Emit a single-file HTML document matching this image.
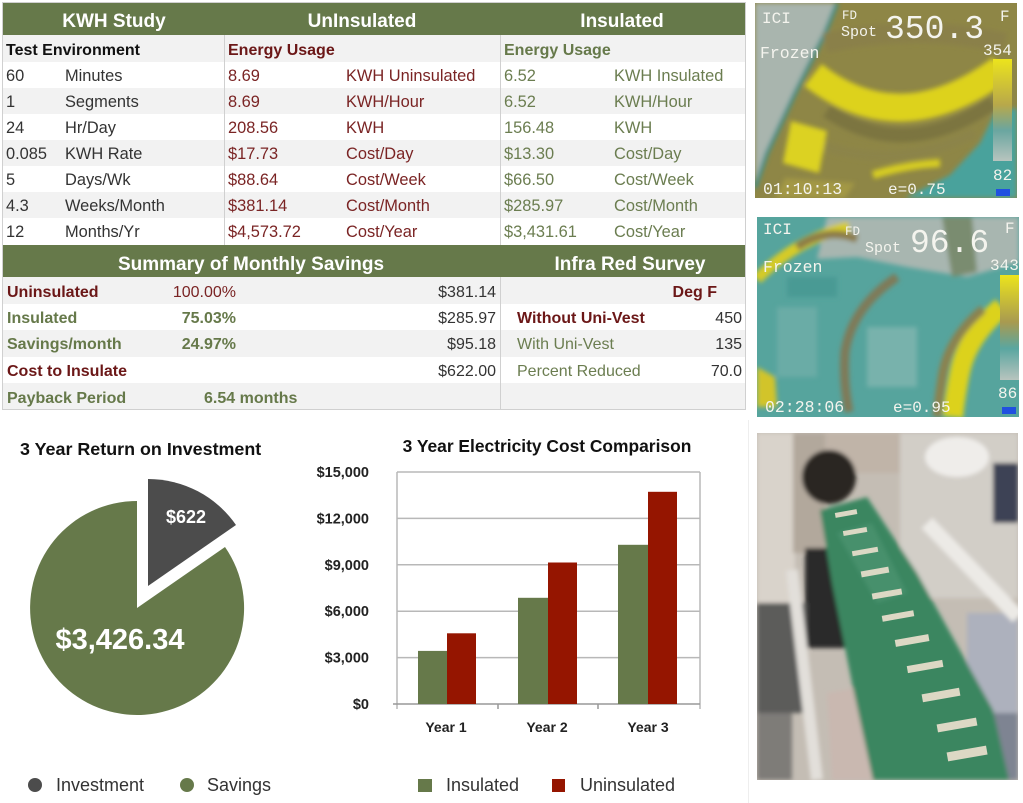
<!DOCTYPE html>
<html><head><meta charset="utf-8"><style>
html,body{margin:0;padding:0;background:#fff;width:1023px;height:803px;overflow:hidden}
svg{display:block}
.s{font-family:"Liberation Sans",Arial,sans-serif}
.m{font-family:"Liberation Mono","DejaVu Sans Mono",monospace}
</style></head><body>
<svg width="1023" height="803" viewBox="0 0 1023 803" xmlns="http://www.w3.org/2000/svg">
<rect width="1023" height="803" fill="#fff"/>
<!-- ===== TOP TABLE ===== -->
<g class="s">
<rect x="2.5" y="2.5" width="743" height="407" fill="#fff" stroke="#d0d0d0"/>
<rect x="3" y="3" width="742" height="32" fill="#66794a"/>
<rect x="3" y="35" width="742" height="27" fill="#f2f2f2"/>
<rect x="3" y="88" width="742" height="26" fill="#f2f2f2"/>
<rect x="3" y="140" width="742" height="26" fill="#f2f2f2"/>
<rect x="3" y="192" width="742" height="26" fill="#f2f2f2"/>
<line x1="224.5" y1="35" x2="224.5" y2="245" stroke="#d0d0d0"/>
<line x1="500.5" y1="35" x2="500.5" y2="245" stroke="#d0d0d0"/>
<g font-weight="bold" font-size="19" fill="#fff" text-anchor="middle">
<text x="114" y="27">KWH Study</text>
<text x="362" y="27">UnInsulated</text>
<text x="622" y="27">Insulated</text>
</g>
<g font-weight="bold" font-size="16">
<text x="6" y="55" fill="#111">Test Environment</text>
<text x="228" y="55" fill="#6b1717">Energy Usage</text>
<text x="504" y="55" fill="#66794a">Energy Usage</text>
</g>
<g font-size="16.4" fill="#333">
<text x="6" y="81">60</text><text x="65" y="81">Minutes</text>
<text x="6" y="107">1</text><text x="65" y="107">Segments</text>
<text x="6" y="133">24</text><text x="65" y="133">Hr/Day</text>
<text x="6" y="159">0.085</text><text x="65" y="159">KWH Rate</text>
<text x="6" y="185">5</text><text x="65" y="185">Days/Wk</text>
<text x="6" y="211">4.3</text><text x="65" y="211">Weeks/Month</text>
<text x="6" y="237">12</text><text x="65" y="237">Months/Yr</text>
</g>
<g font-size="16.4" fill="#7a2424">
<text x="228" y="81">8.69</text><text x="346" y="81">KWH Uninsulated</text>
<text x="228" y="107">8.69</text><text x="346" y="107">KWH/Hour</text>
<text x="228" y="133">208.56</text><text x="346" y="133">KWH</text>
<text x="228" y="159">$17.73</text><text x="346" y="159">Cost/Day</text>
<text x="228" y="185">$88.64</text><text x="346" y="185">Cost/Week</text>
<text x="228" y="211">$381.14</text><text x="346" y="211">Cost/Month</text>
<text x="228" y="237">$4,573.72</text><text x="346" y="237">Cost/Year</text>
</g>
<g font-size="16.4" fill="#6b7d50">
<text x="504" y="81">6.52</text><text x="614" y="81">KWH Insulated</text>
<text x="504" y="107">6.52</text><text x="614" y="107">KWH/Hour</text>
<text x="504" y="133">156.48</text><text x="614" y="133">KWH</text>
<text x="504" y="159">$13.30</text><text x="614" y="159">Cost/Day</text>
<text x="504" y="185">$66.50</text><text x="614" y="185">Cost/Week</text>
<text x="504" y="211">$285.97</text><text x="614" y="211">Cost/Month</text>
<text x="504" y="237">$3,431.61</text><text x="614" y="237">Cost/Year</text>
</g>
<!-- summary -->
<rect x="3" y="245" width="742" height="32" fill="#66794a"/>
<rect x="3" y="277" width="742" height="27" fill="#f2f2f2"/>
<rect x="3" y="330" width="742" height="27" fill="#f2f2f2"/>
<rect x="3" y="383" width="742" height="26" fill="#f2f2f2"/>
<line x1="500.5" y1="277" x2="500.5" y2="409" stroke="#d0d0d0"/>
<g font-weight="bold" font-size="19" fill="#fff" text-anchor="middle">
<text x="251" y="270">Summary of Monthly Savings</text>
<text x="630" y="270">Infra Red Survey</text>
</g>
<g font-size="16">
<text x="7" y="297" font-weight="bold" fill="#6b1717">Uninsulated</text>
<text x="236" y="297" text-anchor="end" fill="#7a2424">100.00%</text>
<text x="496" y="297" text-anchor="end" fill="#333">$381.14</text>
<text x="717" y="297" text-anchor="end" font-weight="bold" fill="#6b1717">Deg F</text>

<text x="7" y="323" font-weight="bold" fill="#66794a">Insulated</text>
<text x="236" y="323" text-anchor="end" font-weight="bold" fill="#66794a">75.03%</text>
<text x="496" y="323" text-anchor="end" fill="#333">$285.97</text>
<text x="517" y="323" font-weight="bold" fill="#6b1717">Without Uni-Vest</text>
<text x="742" y="323" text-anchor="end" fill="#333">450</text>

<text x="7" y="349" font-weight="bold" fill="#66794a">Savings/month</text>
<text x="236" y="349" text-anchor="end" font-weight="bold" fill="#66794a">24.97%</text>
<text x="496" y="349" text-anchor="end" fill="#333">$95.18</text>
<text x="517" y="349" fill="#6b7d50">With Uni-Vest</text>
<text x="742" y="349" text-anchor="end" fill="#333">135</text>

<text x="7" y="376" font-weight="bold" fill="#6b1717">Cost to Insulate</text>
<text x="496" y="376" text-anchor="end" fill="#333">$622.00</text>
<text x="517" y="376" fill="#6b7d50">Percent Reduced</text>
<text x="742" y="376" text-anchor="end" fill="#333">70.0</text>

<text x="7" y="403" font-weight="bold" fill="#66794a">Payback Period</text>
<text x="204" y="403" font-weight="bold" fill="#66794a">6.54 months</text>
</g>
</g>

<!-- ===== PIE ===== -->
<g class="s">
<text x="20" y="455" font-weight="bold" font-size="17.9" fill="#111">3 Year Return on Investment</text>
<path d="M137,608 L225,547 A107,107 0 1 1 137,501 Z" fill="#66794a"/>
<path d="M148,586 L148,479 A107,107 0 0 1 236,525 Z" fill="#4c4c4c"/>
<text x="186" y="523" text-anchor="middle" font-weight="bold" font-size="18" fill="#fff">$622</text>
<text x="120" y="649" text-anchor="middle" font-weight="bold" font-size="29" fill="#fff">$3,426.34</text>
<circle cx="35" cy="785" r="7" fill="#4c4c4c"/>
<text x="56" y="791" font-size="18" fill="#333">Investment</text>
<circle cx="187" cy="785" r="7" fill="#66794a"/>
<text x="207" y="791" font-size="18" fill="#333">Savings</text>
</g>

<!-- ===== BAR CHART ===== -->
<g class="s">
<text x="547" y="452" text-anchor="middle" font-weight="bold" font-size="17.4" fill="#111">3 Year Electricity Cost Comparison</text>
<g stroke="#b8b8b8" stroke-width="1.5">
<line x1="397" y1="472" x2="700" y2="472"/>
<line x1="397" y1="518.4" x2="700" y2="518.4"/>
<line x1="397" y1="564.8" x2="700" y2="564.8"/>
<line x1="397" y1="611.2" x2="700" y2="611.2"/>
<line x1="397" y1="657.6" x2="700" y2="657.6"/>
<line x1="397" y1="472" x2="397" y2="709"/>
<line x1="700" y1="472" x2="700" y2="709"/>
</g>
<g stroke="#999" stroke-width="1.5">
<line x1="393" y1="704" x2="700" y2="704"/>
<line x1="498" y1="704" x2="498" y2="709"/>
<line x1="598" y1="704" x2="598" y2="709"/>
</g>
<g fill="#66794a">
<rect x="418" y="650.9" width="29" height="53.1"/>
<rect x="518" y="597.8" width="30" height="106.2"/>
<rect x="618" y="544.8" width="30" height="159.2"/>
</g>
<g fill="#951500">
<rect x="447" y="633.3" width="29" height="70.7"/>
<rect x="548" y="562.5" width="29" height="141.5"/>
<rect x="648" y="491.8" width="29" height="212.2"/>
</g>
<g font-weight="bold" font-size="14.5" fill="#222" text-anchor="end">
<text x="369" y="477">$15,000</text>
<text x="369" y="523.4">$12,000</text>
<text x="369" y="569.8">$9,000</text>
<text x="369" y="616.2">$6,000</text>
<text x="369" y="662.6">$3,000</text>
<text x="369" y="709">$0</text>
</g>
<g font-weight="bold" font-size="14" fill="#222" text-anchor="middle">
<text x="446" y="732">Year 1</text>
<text x="547" y="732">Year 2</text>
<text x="648" y="732">Year 3</text>
</g>
<rect x="418" y="779" width="14" height="13" fill="#66794a"/>
<text x="446" y="791" font-size="18" fill="#333">Insulated</text>
<rect x="552" y="779" width="13" height="13" fill="#951500"/>
<text x="580" y="791" font-size="18" fill="#333">Uninsulated</text>
</g>
<line x1="748.5" y1="420" x2="748.5" y2="803" stroke="#eeeeee"/>

<!-- ===== PHOTO 1 (thermal) ===== -->
<svg x="755" y="3" width="262" height="195" viewBox="0 0 262 195">
<defs>
<linearGradient id="cb1" x1="0" y1="0" x2="0" y2="1"><stop offset="0" stop-color="#ece41c"/><stop offset="0.45" stop-color="#b8a84a"/><stop offset="0.7" stop-color="#6aa6a0"/><stop offset="1" stop-color="#b8c4be"/></linearGradient>
<filter id="bl1"><feGaussianBlur stdDeviation="2.5"/></filter>
</defs>
<rect width="262" height="195" fill="#8e8646"/>
<g filter="url(#bl1)">
<polygon points="0,0 82,0 70,30 40,90 12,150 0,185" fill="#a9b5ae"/>
<path d="M82,0 L70,30 L40,90 L12,150 L0,185" stroke="#3f8f8a" stroke-width="4" fill="none"/>
<path d="M70,40 Q160,20 250,40" stroke="#8a8048" stroke-width="20" fill="none"/>
<path d="M58,72 Q145,140 246,66" stroke="#ddd21e" stroke-width="28" fill="none"/>
<path d="M72,108 Q150,160 238,100" stroke="#7c7440" stroke-width="14" fill="none"/>
<path d="M60,140 Q140,170 220,130" stroke="#8c8448" stroke-width="10" fill="none"/>
<polygon points="36,118 72,128 64,170 28,160" fill="#dcd220"/>
<polygon points="150,195 195,172 225,140 240,110 262,105 262,195" fill="#4aa29c"/>
<path d="M118,172 Q150,162 185,160" stroke="#d6cc22" stroke-width="8" fill="none"/>
<polygon points="30,175 100,180 90,195 20,195" fill="#a39845"/>
</g>
<rect x="238" y="56" width="19" height="102" fill="url(#cb1)"/>
<g class="m" fill="#f4f4ee">
<text x="7" y="20" font-size="16">ICI</text>
<text x="87" y="16" font-size="12.5">FD</text>
<text x="86" y="33" font-size="15">Spot</text>
<text x="130" y="35" font-size="33">350.3</text>
<text x="245" y="18" font-size="16">F</text>
<text x="5" y="55" font-size="16.5">Frozen</text>
<text x="228" y="52" font-size="16">354</text>
<text x="238" y="177" font-size="16">82</text>
<text x="8" y="191" font-size="16.5">01:10:13</text>
<text x="133" y="191" font-size="16">e=0.75</text>
</g>
<rect x="241" y="186" width="14" height="7" fill="#2050e0"/>
</svg>

<!-- ===== PHOTO 2 (thermal) ===== -->
<svg x="757" y="217" width="262" height="200" viewBox="0 0 262 200">
<defs>
<linearGradient id="cb2" x1="0" y1="0" x2="0" y2="1"><stop offset="0" stop-color="#ece41c"/><stop offset="0.45" stop-color="#a89a50"/><stop offset="0.7" stop-color="#5aa6a0"/><stop offset="1" stop-color="#b8c4be"/></linearGradient>
<filter id="bl2"><feGaussianBlur stdDeviation="2.5"/></filter>
</defs>
<rect width="262" height="200" fill="#56a49d"/>
<g filter="url(#bl2)">
<polygon points="70,0 262,0 262,45 210,60 150,50 100,40 60,42" fill="#a8b6b0"/>
<polygon points="185,0 215,0 220,55 195,60" fill="#7a8c70"/>
<path d="M0,62 Q40,22 92,10" stroke="#d6cb26" stroke-width="11" fill="none"/>
<path d="M40,30 Q70,10 100,22" stroke="#8c7c46" stroke-width="8" fill="none"/>
<path d="M140,60 Q95,90 88,135 Q86,165 92,195" stroke="#7f7a58" stroke-width="9" fill="none"/>
<path d="M245,90 Q210,120 203,155 Q198,180 196,200" stroke="#dcd21c" stroke-width="20" fill="none"/>
<path d="M226,92 Q193,120 186,155 Q182,180 180,200" stroke="#8b8250" stroke-width="9" fill="none"/>
<polygon points="0,150 18,160 20,190 0,190" fill="#d2c42a"/>
<rect x="20" y="90" width="40" height="70" fill="#6aaca6"/>
<rect x="110" y="110" width="50" height="60" fill="#78b2ac"/>
<rect x="30" y="60" width="50" height="20" fill="#4a9a94"/>
</g>
<rect x="243" y="58" width="19" height="105" fill="url(#cb2)"/>
<g class="m" fill="#f4f4ee">
<text x="6" y="17" font-size="16">ICI</text>
<text x="88" y="18" font-size="12.5">FD</text>
<text x="108" y="35" font-size="15">Spot</text>
<text x="153" y="35" font-size="33">96.6</text>
<text x="248" y="16" font-size="16">F</text>
<text x="6" y="55" font-size="16.5">Frozen</text>
<text x="233" y="53" font-size="16">343</text>
<text x="241" y="181" font-size="16">86</text>
<text x="8" y="195" font-size="16.5">02:28:06</text>
<text x="136" y="195" font-size="16">e=0.95</text>
</g>
<rect x="245" y="190" width="14" height="7" fill="#2050e0"/>
</svg>

<!-- ===== PHOTO 3 ===== -->
<svg x="757" y="433" width="261" height="347" viewBox="0 0 261 347">
<defs><filter id="bl3"><feGaussianBlur stdDeviation="2"/></filter></defs>
<rect width="261" height="347" fill="#c4bdb4"/>
<g filter="url(#bl3)">
<rect x="0" y="0" width="38" height="170" fill="#d9d3cb"/>
<rect x="36" y="0" width="32" height="120" fill="#b2a89c"/>
<rect x="68" y="0" width="80" height="40" fill="#c0b4a8"/>
<circle cx="72" cy="44" r="27" fill="#2b2622"/>
<rect x="143" y="0" width="118" height="165" fill="#d2cec7"/>
<ellipse cx="200" cy="24" rx="32" ry="20" fill="#efedea"/>
<rect x="236" y="30" width="25" height="60" fill="#3c4254"/>
<rect x="48" y="115" width="40" height="100" fill="#2c2b29"/>
<rect x="0" y="170" width="50" height="110" fill="#5c5c5a"/>
<rect x="0" y="280" width="35" height="67" fill="#7e7c78"/>
<polygon points="70,260 125,250 140,347 75,347" fill="#c9b8b0"/>
<polygon points="200,290 261,270 261,347 195,347" fill="#7e8492"/>
<rect x="210" y="180" width="51" height="100" fill="#adb1bd"/>
<polygon points="63,77 110,64 160,140 236,277 252,347 116,347 95,250 75,150" fill="#3b8660"/>
<polygon points="80,100 115,90 150,160 120,170" fill="#47906c"/>
<line x1="170" y1="90" x2="261" y2="184" stroke="#eceae6" stroke-width="15"/>
<line x1="35" y1="137" x2="60" y2="347" stroke="#e2dfda" stroke-width="12"/>
</g>
<g fill="#dcd8c4">
<rect x="78" y="78" width="22" height="5" transform="rotate(-10 89 80)"/>
<rect x="86" y="96" width="24" height="5" transform="rotate(-10 98 98)"/>
<rect x="95" y="116" width="26" height="5" transform="rotate(-10 108 118)"/>
<rect x="104" y="136" width="28" height="6" transform="rotate(-10 118 139)"/>
<rect x="115" y="158" width="30" height="6" transform="rotate(-10 130 161)"/>
<rect x="125" y="180" width="32" height="6" transform="rotate(-10 141 183)"/>
<rect x="138" y="204" width="34" height="7" transform="rotate(-10 155 207)"/>
<rect x="150" y="230" width="36" height="7" transform="rotate(-10 168 233)"/>
<rect x="165" y="258" width="38" height="8" transform="rotate(-10 184 262)"/>
<rect x="180" y="288" width="40" height="8" transform="rotate(-10 200 292)"/>
<rect x="190" y="316" width="40" height="9" transform="rotate(-10 210 320)"/>
</g>
</svg>
</svg>
</body></html>
